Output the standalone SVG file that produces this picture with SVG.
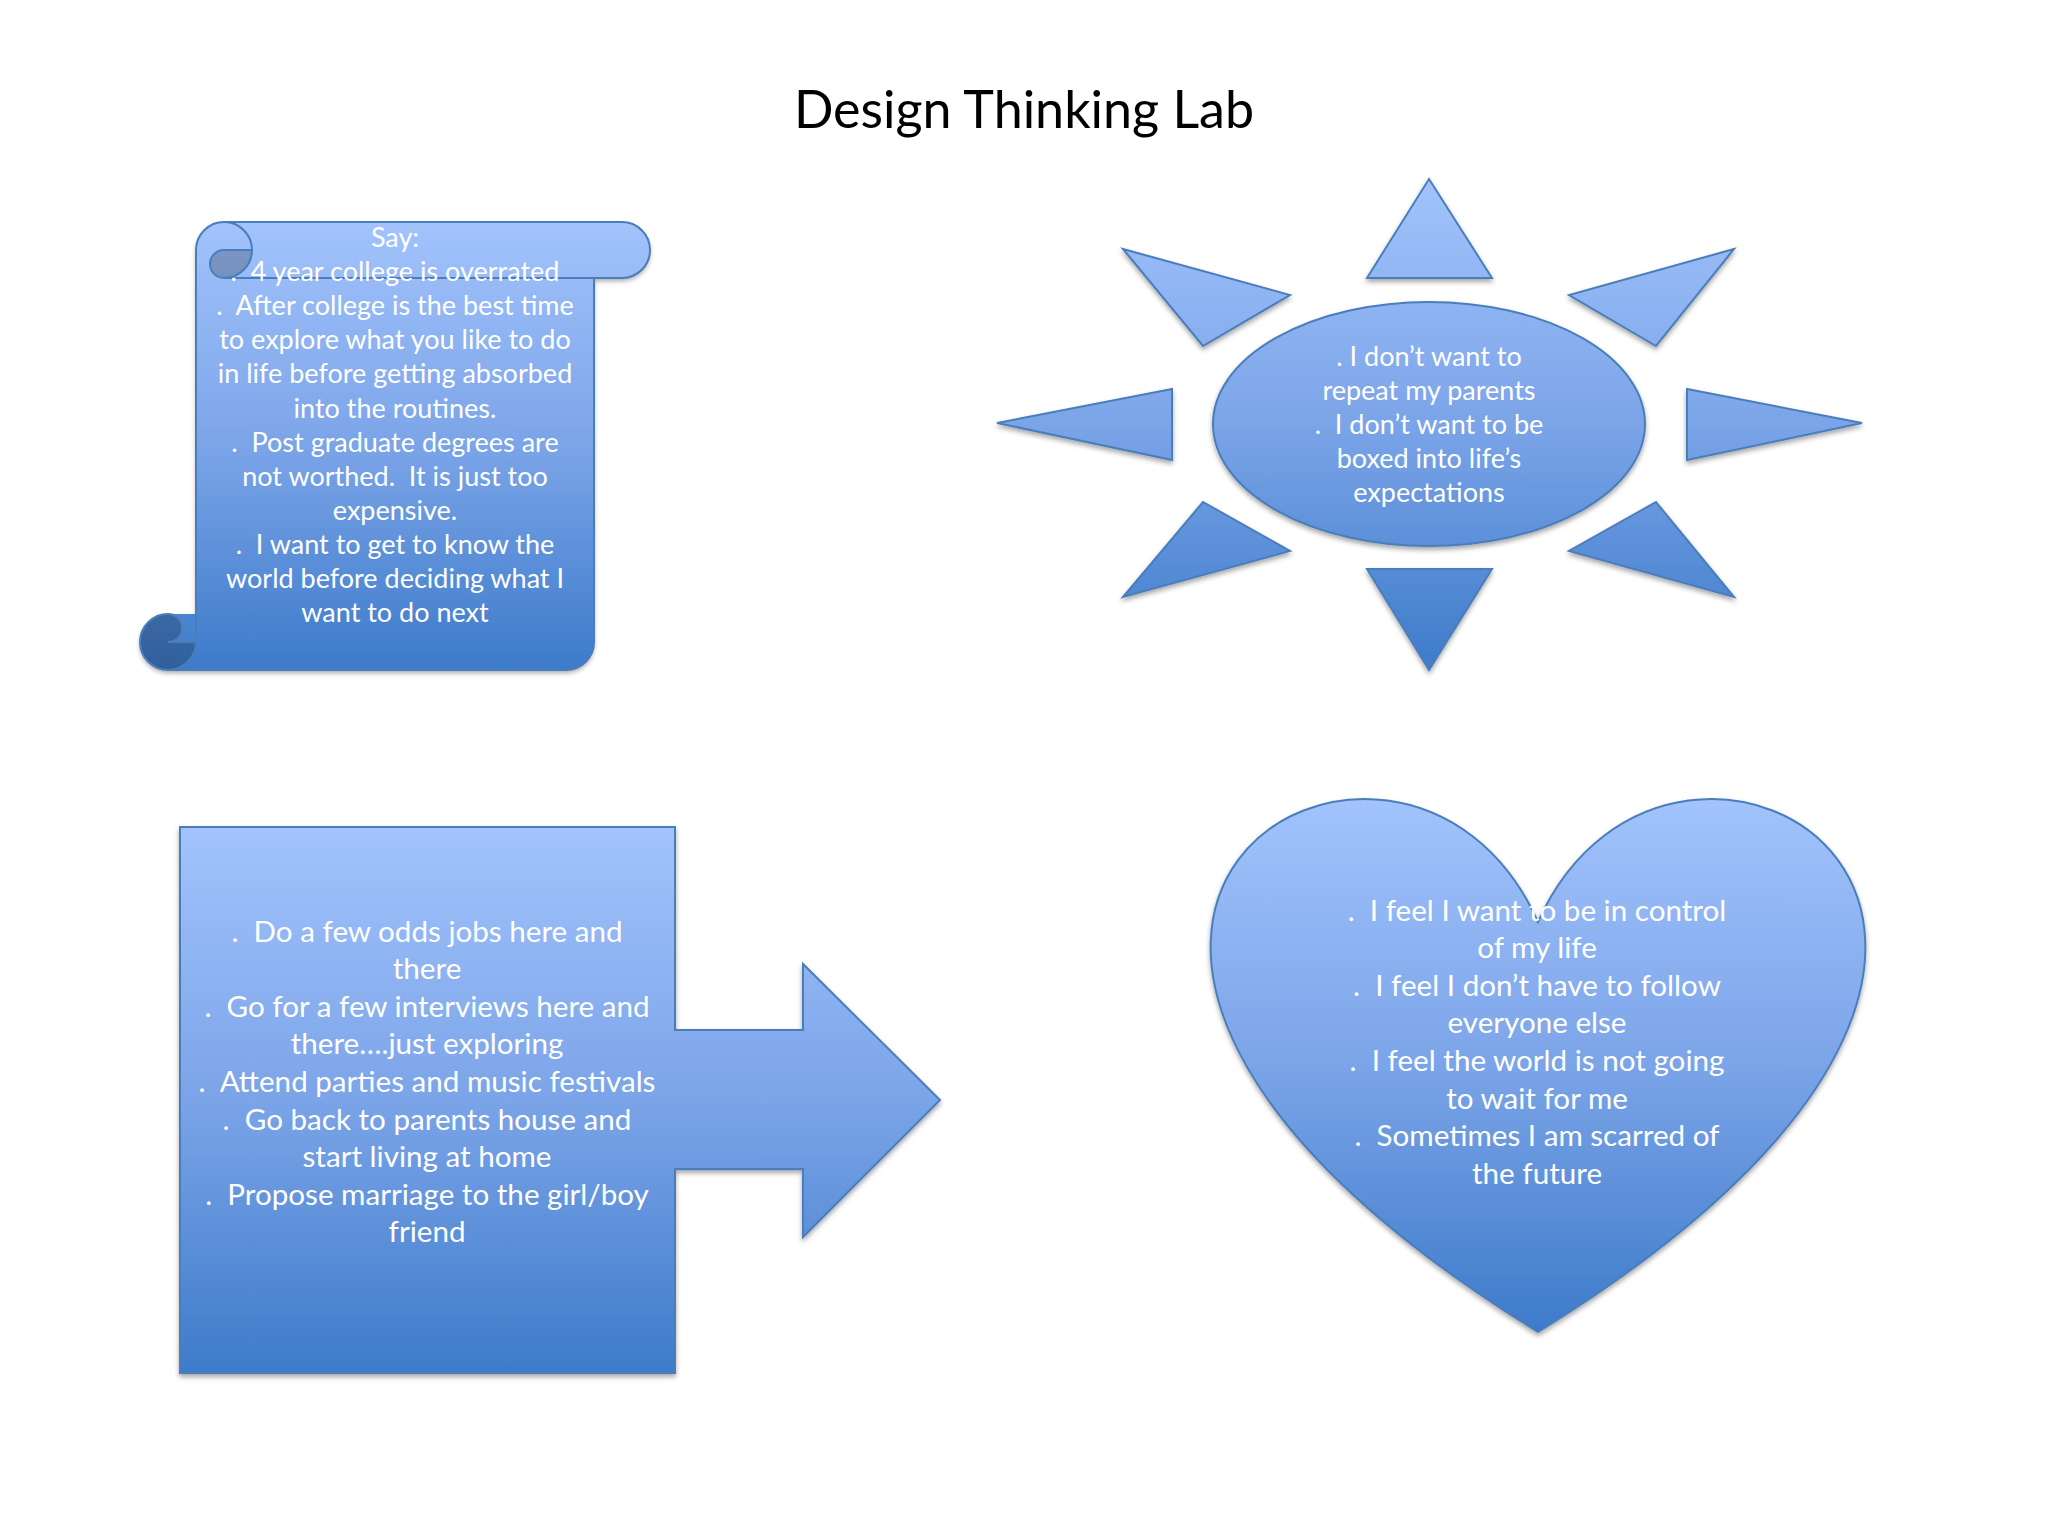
<svg xmlns="http://www.w3.org/2000/svg" width="2048" height="1536" viewBox="0 0 2048 1536">
<defs>
<linearGradient id="gBox" x1="0" y1="0" x2="0" y2="1">
<stop offset="0" stop-color="#A2C3FC"/>
<stop offset="0.5" stop-color="#7BA4E8"/>
<stop offset="1" stop-color="#3D7BCA"/>
</linearGradient>
<linearGradient id="gSun" gradientUnits="userSpaceOnUse" x1="0" y1="179" x2="0" y2="670">
<stop offset="0" stop-color="#A2C3FC"/>
<stop offset="0.5" stop-color="#7BA4E8"/>
<stop offset="1" stop-color="#3D7BCA"/>
</linearGradient>
<filter id="sh" x="-10%" y="-10%" width="120%" height="125%">
<feDropShadow dx="0" dy="3" stdDeviation="2.5" flood-color="#000" flood-opacity="0.35"/>
</filter>
</defs>
<style>
.shape{stroke:#4A7EBB;stroke-width:2;stroke-linejoin:miter}
.line{fill:none;stroke:#4A7EBB;stroke-width:2}
.dark{fill:#000;fill-opacity:0.22;stroke:none}
.t28{font-family:Lato,"Liberation Sans",sans-serif;font-size:27px;fill:#FFFFFF;text-anchor:middle}
.t31{font-family:Lato,"Liberation Sans",sans-serif;font-size:29.6px;fill:#FFFFFF;text-anchor:middle}
.title{font-family:Lato,"Liberation Sans",sans-serif;font-size:52px;fill:#000000;text-anchor:middle}
</style>
<rect width="2048" height="1536" fill="#FFFFFF"/>
<text class="title" x="1024" y="128">Design Thinking Lab</text>

<g id="scroll">
<g filter="url(#sh)">
<path fill="url(#gBox)" stroke="none" d="M196,614 L196,250 A28,28 0 0 1 224,222 L622,222 A28,28 0 0 1 622,278 L594,278 L594,642 A28,28 0 0 1 566,670 L168,670 A28,28 0 0 1 168,614 Z"/>
</g>
<path class="dark" d="M252,250 A28,28 0 0 1 224,278 A14,14 0 0 1 224,250 Z"/>
<path class="dark" d="M196,642 A28,28 0 1 1 168,614 A14,14 0 0 1 168,642 Z"/>
<path class="line" d="M196,614 L196,250 A28,28 0 0 1 224,222 L622,222 A28,28 0 0 1 622,278 L594,278 L594,642 A28,28 0 0 1 566,670 L168,670 A28,28 0 0 1 168,614 M224,222 A28,28 0 0 1 224,278 A14,14 0 0 1 224,250 L252,250 M594,278 L224,278 M168,614 A14,14 0 0 1 168,642 L196,642 M168,670 A28,28 0 0 0 196,642 L196,614"/>
<text class="t28" xml:space="preserve"><tspan x="395" y="247">Say:</tspan><tspan x="395" y="281">.  4 year college is overrated</tspan><tspan x="395" y="315">.  After college is the best time</tspan><tspan x="395" y="349">to explore what you like to do</tspan><tspan x="395" y="383">in life before getting absorbed</tspan><tspan x="395" y="418">into the routines.</tspan><tspan x="395" y="452">.  Post graduate degrees are</tspan><tspan x="395" y="486">not worthed.  It is just too</tspan><tspan x="395" y="520">expensive.</tspan><tspan x="395" y="554">.  I want to get to know the</tspan><tspan x="395" y="588">world before deciding what I</tspan><tspan x="395" y="622">want to do next</tspan></text>
</g>

<g id="sun">
<g filter="url(#sh)" fill="url(#gSun)" class="shape">
<polygon points="1429,179 1492,278 1367,278"/>
<polygon points="1429,670 1367,569 1492,569"/>
<polygon points="997,423 1172,389 1172,460"/>
<polygon points="1862,423 1687,389 1687,460"/>
<polygon points="1123,249 1290,295 1203,346"/>
<polygon points="1734,249 1569,295 1656,346"/>
<polygon points="1123,597 1203,502 1290,551"/>
<polygon points="1734,597 1656,502 1569,551"/>
<ellipse cx="1429" cy="424" rx="216" ry="122"/>
</g>
<text class="t28" xml:space="preserve"><tspan x="1429" y="366">. I don’t want to</tspan><tspan x="1429" y="400">repeat my parents</tspan><tspan x="1429" y="434">.  I don’t want to be</tspan><tspan x="1429" y="468">boxed into life’s</tspan><tspan x="1429" y="502">expectations</tspan></text>
</g>

<g id="arrow-callout">
<path filter="url(#sh)" class="shape" fill="url(#gBox)" d="M180,827 L675,827 L675,1030 L803,1030 L803,964 L940,1100 L803,1237 L803,1169 L675,1169 L675,1373 L180,1373 Z"/>
<text class="t31" xml:space="preserve"><tspan x="427" y="942">.  Do a few odds jobs here and</tspan><tspan x="427" y="979">there</tspan><tspan x="427" y="1017">.  Go for a few interviews here and</tspan><tspan x="427" y="1054">there….just exploring</tspan><tspan x="427" y="1092">.  Attend parties and music festivals</tspan><tspan x="427" y="1130">.  Go back to parents house and</tspan><tspan x="427" y="1167">start living at home</tspan><tspan x="427" y="1205">.  Propose marriage to the girl/boy</tspan><tspan x="427" y="1242">friend</tspan></text>
</g>

<g id="heart">
<path filter="url(#sh)" class="shape" fill="url(#gBox)" d="M1538,922 C1673.4,619 2201.5,922 1538,1332 C874.5,922 1402.6,619 1538,922 Z"/>
<text class="t31" xml:space="preserve"><tspan x="1537" y="921">.  I feel I want to be in control</tspan><tspan x="1537" y="958">of my life</tspan><tspan x="1537" y="996">.  I feel I don’t have to follow</tspan><tspan x="1537" y="1033">everyone else</tspan><tspan x="1537" y="1071">.  I feel the world is not going</tspan><tspan x="1537" y="1109">to wait for me</tspan><tspan x="1537" y="1146">.  Sometimes I am scarred of</tspan><tspan x="1537" y="1184">the future</tspan></text>
</g>
</svg>
